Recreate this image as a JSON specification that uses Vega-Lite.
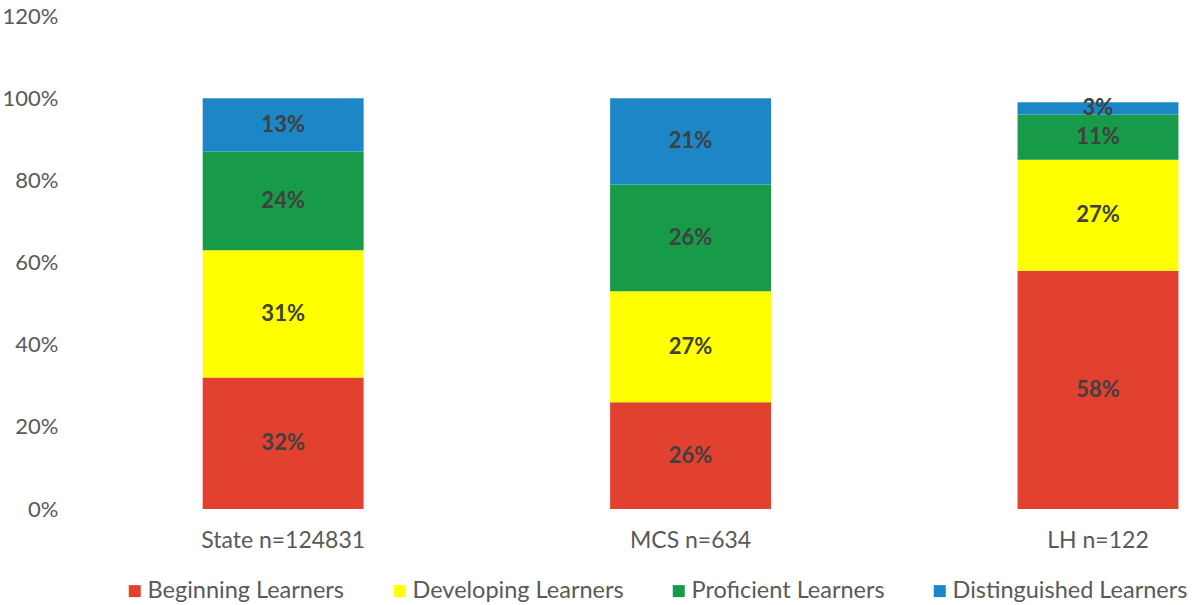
{
  "$schema": "https://vega.github.io/schema/vega-lite/v6.json",
  "autosize": "none",
  "width": 1120,
  "height": 493,
  "padding": {"left": 70, "top": 16, "right": 2, "bottom": 96},
  "background": "white",
  "config": {"view": {"stroke": null}, "font": "Lato"},
  "data": {
    "values": [
      {"group": "State n=124831", "level": "Beginning Learners", "k": 1, "pct": 32},
      {"group": "State n=124831", "level": "Developing Learners", "k": 2, "pct": 31},
      {"group": "State n=124831", "level": "Proficient Learners", "k": 3, "pct": 24},
      {"group": "State n=124831", "level": "Distinguished Learners", "k": 4, "pct": 13},
      {"group": "MCS n=634", "level": "Beginning Learners", "k": 1, "pct": 26},
      {"group": "MCS n=634", "level": "Developing Learners", "k": 2, "pct": 27},
      {"group": "MCS n=634", "level": "Proficient Learners", "k": 3, "pct": 26},
      {"group": "MCS n=634", "level": "Distinguished Learners", "k": 4, "pct": 21},
      {"group": "LH n=122", "level": "Beginning Learners", "k": 1, "pct": 58},
      {"group": "LH n=122", "level": "Developing Learners", "k": 2, "pct": 27},
      {"group": "LH n=122", "level": "Proficient Learners", "k": 3, "pct": 11},
      {"group": "LH n=122", "level": "Distinguished Learners", "k": 4, "pct": 3}
    ]
  },
  "transform": [
    {"stack": "pct", "groupby": ["group"], "sort": [{"field": "k", "order": "ascending"}], "as": ["y0", "y1"]},
    {"calculate": "(datum.y0 + datum.y1) / 2", "as": "mid"},
    {"calculate": "datum.pct + '%'", "as": "lab"}
  ],
  "encoding": {
    "x": {
      "field": "group",
      "type": "nominal",
      "sort": ["State n=124831", "MCS n=634", "LH n=122"],
      "scale": {"paddingInner": 0.605, "paddingOuter": 0.177, "align": 0.92},
      "axis": {"title": null, "labelAngle": 0, "domain": false, "ticks": false, "labelPadding": 20, "labelFontSize": 23, "labelColor": "#595959", "labelFont": "Lato"}
    }
  },
  "layer": [
    {
      "mark": {"type": "bar"},
      "encoding": {
        "y": {
          "field": "y0",
          "type": "quantitative",
          "scale": {"domain": [0, 120]},
          "axis": {"title": null, "values": [0, 20, 40, 60, 80, 100, 120], "labelExpr": "datum.value + '%'", "domain": false, "ticks": false, "grid": false, "labelPadding": 12, "labelFontSize": 22, "labelColor": "#595959", "labelFont": "Lato"}
        },
        "y2": {"field": "y1"},
        "color": {
          "field": "level",
          "type": "nominal",
          "scale": {
            "domain": ["Beginning Learners", "Developing Learners", "Proficient Learners", "Distinguished Learners"],
            "range": ["#E3412F", "#FFFF00", "#179B48", "#1C86C6"]
          },
          "legend": {
            "title": null,
            "orient": "none",
            "direction": "horizontal",
            "legendX": 53,
            "legendY": 563,
            "symbolType": "square",
            "symbolSize": 144,
            "symbolStrokeWidth": 0,
            "labelFontSize": 23.5,
            "labelFont": "Lato",
            "labelColor": "#595959",
            "labelOffset": 1,
            "labelLimit": 0,
            "columnPadding": 43
          }
        }
      }
    },
    {
      "mark": {"type": "text", "fontSize": 22, "fontWeight": "bold", "color": "#404040", "font": "Lato", "baseline": "middle"},
      "encoding": {
        "y": {"field": "mid", "type": "quantitative"},
        "text": {"field": "lab"}
      }
    }
  ]
}
